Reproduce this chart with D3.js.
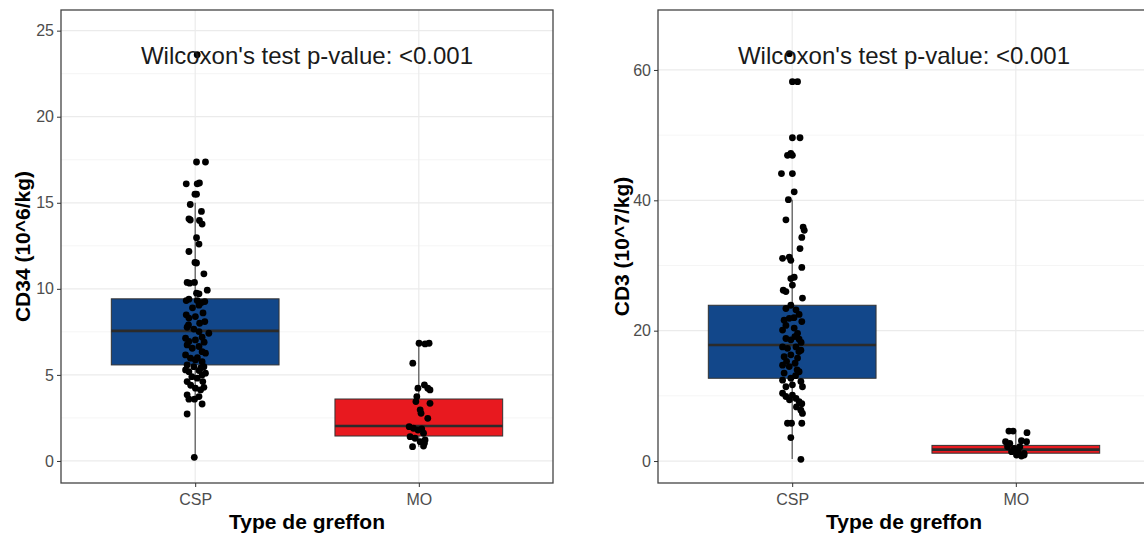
<!DOCTYPE html>
<html>
<head>
<meta charset="utf-8">
<script src="https://cdnjs.cloudflare.com/ajax/libs/d3/7.8.5/d3.min.js"></script>
<style>
  body { margin: 0; background: #fff; }
  svg { display: block; font-family: "Liberation Sans", Arial, sans-serif; }
</style>
</head>
<body>
<svg id="chart" width="1144" height="536"></svg>
<script>
var categories = ["CSP", "MO"];
var pLabel = "Wilcoxon's test p-value: <0.001";
var xTitle = "Type de greffon";

// CD34 panel
var cd34Ticks = [0, 5, 10, 15, 20, 25];
var cd34Minor = [2.5, 7.5, 12.5, 17.5, 22.5];
// box stats: [lower whisker, q1, median, q3, upper whisker]
var cd34BoxCSP = [0.2, 5.58, 7.56, 9.42, 15.0];
var cd34BoxMO = [0.83, 1.45, 2.03, 3.6, 6.84];
var cd34CSP = [17.37, 17.37, 16.1, 16.1, 16.15, 15.5, 15.5, 14.9, 14.5, 14.07, 14.0, 13.97, 13.76,
  12.97, 12.6, 12.17, 11.53, 11.5, 10.87, 10.37, 10.33, 10.37, 9.92, 9.75, 9.71, 9.32, 9.4, 9.32,
  9.2, 9.26, 9.05, 8.49, 8.3, 8.39, 8.1, 7.77, 7.66, 7.42, 7.52, 7.19, 7.13, 6.94, 7.03, 6.74, 6.55,
  6.65, 6.35, 6.26, 6.16, 5.97, 5.87, 5.77, 5.58, 5.48, 5.48, 5.29, 5.19, 5.25, 5.0, 5.1, 4.81, 4.61,
  4.61, 4.23, 4.13, 4.28, 3.84, 3.59, 3.59, 3.74, 3.31, 2.73, 0.21, 23.6,
  8.9, 8.0, 7.9, 6.0, 5.4, 4.9, 4.4, 6.9, 8.6];
var cd34CSPJitter = [0.006, 0.046, -0.040, 0.009, 0.019, -0.001, 0.006, -0.022, 0.028, -0.028, -0.022,
  0.019, 0.031, 0.006, 0.017, -0.028, -0.001, 0.006, 0.039, -0.036, -0.025, -0.003, 0.054, 0.006,
  0.017, -0.040, -0.028, 0.009, 0.028, 0.043, 0.017, -0.040, -0.028, 0.001, 0.043, -0.036, -0.006,
  0.061, 0.017, 0.031, -0.043, -0.028, 0.001, -0.036, -0.013, 0.017, 0.031, 0.046, -0.043, -0.021,
  0.001, 0.031, -0.036, -0.006, 0.039, -0.043, -0.028, 0.017, 0.031, 0.046, 0.009, 0.034, -0.036,
  0.001, 0.024, 0.039, -0.036, -0.028, -0.003, 0.017, 0.031, -0.036, -0.004, 0.009,
  -0.012, 0.020, -0.030, 0.010, 0.025, -0.015, -0.020, 0.040, 0.035];
var cd34MO = [6.84, 6.8, 6.84, 5.68, 4.42, 4.23, 4.13, 4.23, 3.74, 3.45, 3.35, 2.97, 2.77, 2.48,
  1.99, 1.9, 1.8, 1.86, 1.41, 1.32, 1.61, 1.22, 1.12, 1.03, 0.83, 0.87];
var cd34MOJitter = [0.001, 0.028, 0.046, -0.027, 0.025, 0.040, 0.050, -0.004, -0.009, -0.013, 0.050,
  0.006, 0.010, 0.040, -0.043, -0.024, -0.004, 0.013, -0.039, -0.017, 0.021, 0.028, 0.006, 0.025,
  -0.028, 0.021];

// CD3 panel
var cd3Ticks = [0, 20, 40, 60];
var cd3Minor = [10, 30, 50];
var cd3BoxCSP = [0.3, 12.7, 17.8, 23.9, 40.1];
var cd3BoxMO = [0.5, 1.2, 1.75, 2.4, 4.35];
var cd3CSP = [62.5, 58.2, 58.2, 49.6, 49.6, 46.9, 47.2, 46.9, 44.1, 44.1, 41.3, 40.1, 37.0, 35.9,
  35.4, 34.3, 32.6, 31.1, 31.3, 30.8, 29.7, 28.0, 28.2, 26.2, 26.0, 27.0, 25.0, 23.9, 23.4, 23.2,
  22.5, 21.6, 21.9, 21.4, 20.1, 20.4, 19.6, 18.8, 18.6, 18.7, 17.5, 17.3, 17.5, 17.0, 16.0, 16.3,
  15.8, 14.7, 14.5, 15.0, 13.5, 13.7, 12.4, 12.7, 12.2, 11.4, 11.7, 11.4, 10.4, 9.9, 10.1, 9.6, 9.1,
  8.8, 8.3, 7.8, 7.3, 5.8, 5.8, 5.8, 3.6, 0.26,
  19.1, 16.8, 15.3, 13.1, 9.4, 18.2, 20.8, 22.0, 14.0];
var cd3CSPJitter = [-0.013, 0.001, 0.024, 0.001, 0.035, -0.021, -0.006, 0.001, -0.048, 0.001, 0.009,
  -0.017, -0.028, 0.049, 0.054, 0.043, 0.035, -0.043, -0.013, -0.006, 0.043, -0.006, 0.009, -0.040,
  -0.028, 0.001, 0.046, -0.006, -0.028, 0.017, 0.031, -0.036, -0.013, 0.043, -0.043, 0.009, 0.024,
  -0.028, -0.006, 0.031, -0.043, -0.021, 0.017, 0.039, -0.036, -0.006, 0.024, -0.043, -0.013, 0.013,
  -0.036, 0.031, -0.043, -0.006, 0.039, -0.028, 0.001, 0.046, -0.043, -0.028, 0.001, 0.017, 0.031,
  0.043, 0.019, 0.039, 0.046, -0.021, -0.003, 0.043, -0.006, 0.039,
  0.012, 0.030, -0.025, 0.015, -0.012, 0.040, -0.028, 0.008, 0.022];
var cd3MO = [4.6, 4.6, 4.35, 2.96, 2.71, 3.11, 2.96, 2.19, 1.95, 2.19, 1.43, 1.43, 1.18, 0.92, 0.77, 0.92];
var cd3MOJitter = [-0.031, -0.012, 0.050, -0.046, -0.027, 0.025, 0.048, -0.037, -0.008, 0.018,
  -0.019, 0.010, 0.037, 0.003, 0.025, 0.037];

var fills = ["#12478a", "#e8191f"];

var svg = d3.select("#chart");

function drawPanel(opt) {
  var g = svg.append("g");

  var x = d3.scalePoint()
    .domain(categories)
    .range([opt.left, opt.right])
    .padding(0.6);
  var step = x.step();

  var y = d3.scaleLinear()
    .domain(opt.yDomain)
    .range([opt.bottom, opt.top]);

  // grid
  g.selectAll(".minor").data(opt.minor).enter().append("line")
    .attr("x1", opt.left).attr("x2", opt.right)
    .attr("y1", function(d) { return y(d); }).attr("y2", function(d) { return y(d); })
    .attr("stroke", "#f2f2f2").attr("stroke-width", 0.8);
  g.selectAll(".major").data(opt.ticks).enter().append("line")
    .attr("x1", opt.left).attr("x2", opt.right)
    .attr("y1", function(d) { return y(d); }).attr("y2", function(d) { return y(d); })
    .attr("stroke", "#ebebeb").attr("stroke-width", 1.2);
  g.selectAll(".vgrid").data(categories).enter().append("line")
    .attr("x1", function(d) { return x(d); }).attr("x2", function(d) { return x(d); })
    .attr("y1", opt.top).attr("y2", opt.bottom)
    .attr("stroke", "#ebebeb").attr("stroke-width", 1.2);

  // boxes
  var boxW = 0.75 * step;
  opt.boxes.forEach(function(b, i) {
    var cx = x(categories[i]);
    g.append("line")
      .attr("x1", cx).attr("x2", cx)
      .attr("y1", y(b[0])).attr("y2", y(b[4]))
      .attr("stroke", "#444").attr("stroke-width", 1.1);
    g.append("rect")
      .attr("x", cx - boxW / 2).attr("width", boxW)
      .attr("y", y(b[3])).attr("height", y(b[1]) - y(b[3]))
      .attr("fill", fills[i]).attr("stroke", "#333").attr("stroke-width", 1);
    g.append("line")
      .attr("x1", cx - boxW / 2).attr("x2", cx + boxW / 2)
      .attr("y1", y(b[2])).attr("y2", y(b[2]))
      .attr("stroke", "#2b2b2b").attr("stroke-width", 2.6);
  });

  // jittered points
  opt.points.forEach(function(p, i) {
    var cx = x(categories[i]);
    g.selectAll(null).data(p.values).enter().append("circle")
      .attr("cx", function(d, j) { return cx + p.jitter[j] * step; })
      .attr("cy", function(d) { return y(d); })
      .attr("r", 3.4)
      .attr("fill", "#000");
  });

  // annotation
  g.append("text")
    .attr("x", (opt.left + opt.right) / 2)
    .attr("y", 64)
    .attr("text-anchor", "middle")
    .attr("font-size", "24px")
    .attr("fill", "#1a1a1a")
    .text(pLabel);

  // border
  g.append("rect")
    .attr("x", opt.left).attr("y", opt.top)
    .attr("width", opt.right - opt.left).attr("height", opt.bottom - opt.top)
    .attr("fill", "none").attr("stroke", "#444").attr("stroke-width", 1.3);

  // axes
  var yAxis = g.append("g")
    .attr("transform", "translate(" + opt.left + ",0)")
    .call(d3.axisLeft(y).tickValues(opt.ticks).tickSize(4).tickPadding(3));
  var xAxis = g.append("g")
    .attr("transform", "translate(0," + opt.bottom + ")")
    .call(d3.axisBottom(x).tickSize(4).tickPadding(7));
  [yAxis, xAxis].forEach(function(a) {
    a.select(".domain").remove();
    a.selectAll(".tick line").attr("stroke", "#333");
    a.selectAll(".tick text")
      .attr("fill", "#4d4d4d")
      .attr("font-size", "16px")
      .attr("font-family", "Liberation Sans, Arial, sans-serif");
  });

  g.append("text")
    .attr("x", (opt.left + opt.right) / 2)
    .attr("y", 529)
    .attr("text-anchor", "middle")
    .attr("font-size", "21px")
    .attr("font-weight", "bold")
    .text(xTitle);

  g.append("text")
    .attr("transform", "translate(" + opt.titleX + "," + ((opt.top + opt.bottom) / 2) + ") rotate(-90)")
    .attr("text-anchor", "middle")
    .attr("font-size", "21px")
    .attr("font-weight", "bold")
    .text(opt.yTitle);
}

drawPanel({
  left: 61, right: 553, top: 10, bottom: 483,
  yDomain: [-1.28, 26.2],
  ticks: cd34Ticks, minor: cd34Minor,
  boxes: [cd34BoxCSP, cd34BoxMO],
  points: [{values: cd34CSP, jitter: cd34CSPJitter}, {values: cd34MO, jitter: cd34MOJitter}],
  yTitle: "CD34 (10^6/kg)", titleX: 30
});

drawPanel({
  left: 658, right: 1150, top: 10, bottom: 483,
  yDomain: [-3.37, 69.2],
  ticks: cd3Ticks, minor: cd3Minor,
  boxes: [cd3BoxCSP, cd3BoxMO],
  points: [{values: cd3CSP, jitter: cd3CSPJitter}, {values: cd3MO, jitter: cd3MOJitter}],
  yTitle: "CD3 (10^7/kg)", titleX: 629
});
</script>
</body>
</html>
